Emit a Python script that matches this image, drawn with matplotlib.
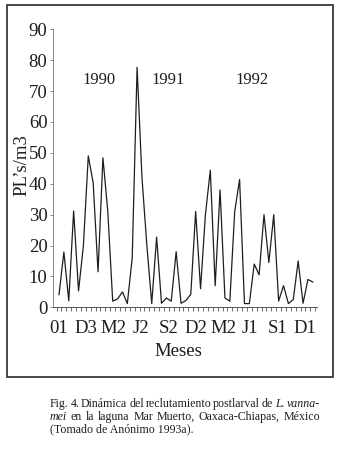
import numpy as np
import matplotlib
matplotlib.use("Agg")
import matplotlib.pyplot as plt
from matplotlib.patches import Rectangle

#======================================================================#
## values (PL's/m3, one value per sampling)
pl_density = [4.1, 17.9, 2.1, 31.2, 5.3, 20.0, 49.0, 40.3, 11.5, 48.4,
              31.0, 2.0, 2.7, 5.0, 1.2, 16.0, 77.7, 42.0, 20.0, 1.2,
              22.7, 1.3, 3.0, 2.0, 18.0, 1.3, 2.2, 4.2, 31.0, 6.0,
              30.0, 44.4, 7.0, 38.0, 3.0, 2.0, 31.0, 41.4, 1.2, 1.2,
              14.0, 10.5, 30.0, 14.5, 30.0, 2.0, 7.0, 1.2, 2.5, 15.0,
              1.3, 9.0, 8.2]
month_labels = ['01', 'D3', 'M2', 'J2', 'S2', 'D2', 'M2', 'J1', 'S1', 'D1']
year_labels = ['1990', '1991', '1992']
y_ticks = [0, 10, 20, 30, 40, 50, 60, 70, 80, 90]

## caption, (word, italic) pairs per line
caption_lines = [
    [("Fig.", 0), ("4.", 0), ("Dinámica", 0), ("del", 0), ("reclutamiento", 0),
     ("postlarval", 0), ("de", 0), ("L.", 1), ("vanna-", 1)],
    [("mei", 1), ("en", 0), ("la", 0), ("laguna", 0), ("Mar", 0), ("Muerto,", 0),
     ("Oaxaca-Chiapas,", 0), ("México", 0)],
    [("(Tomado de Anónimo 1993a).", 0)],
]

#======================================================================#
## plot parameters
serif = ['Liberation Serif', 'DejaVu Serif']
fs_tick = 13.5
fs_cap = 8.6
ink = '#1e1e1e'

plt.rcParams['font.family'] = serif
fig = plt.figure(figsize=(3.4, 4.55), dpi=100)
W, H = 340.0, 455.0

## outer frame of the chart
fig.patches.append(Rectangle((7 / W, 1 - 377 / H), 326 / W, 372 / H,
                             transform=fig.transFigure, fill=False,
                             edgecolor='#3a3a3a', linewidth=1.3))

ax = fig.add_axes([53 / W, 1 - 307.3 / H, 264 / W, 278 / H])
x = np.arange(len(pl_density))
ax.plot(x, pl_density, color=ink, linewidth=0.9)

ax.set_ylim(0, 90)
ax.set_xlim(-1.23, len(pl_density) - 1 + 0.86)
ax.set_yticks(y_ticks)
ax.set_yticklabels([str(v) for v in y_ticks], fontsize=fs_tick, color=ink)

## small category ticks, month labels spread along the axis
ax.set_xticks(np.arange(-0.5, len(pl_density) + 0.5, 1.0), minor=True)
ax.set_xticks(np.linspace(0, 50.4, len(month_labels)))
ax.set_xticklabels(month_labels, fontsize=fs_tick, color=ink)
ax.tick_params(axis='x', which='major', length=0, pad=9)
ax.tick_params(axis='x', which='minor', length=3, width=0.6, color='#555555')
ax.tick_params(axis='y', length=2.5, width=0.6, color='#777777', pad=1.5)

for s in ['top', 'right']:
    ax.spines[s].set_visible(False)
ax.spines['left'].set_color('#888888')
ax.spines['left'].set_linewidth(0.7)
ax.spines['bottom'].set_color('#555555')
ax.spines['bottom'].set_linewidth(0.7)

ax.set_xlabel("Meses", fontsize=fs_tick, color=ink)
ax.set_ylabel("PL\u2019s/m3", fontsize=fs_tick, color=ink)
ax.xaxis.set_label_coords((178 - 53) / 264.0, -(352 - 307.3) / 278.0)
ax.yaxis.set_label_coords((21.7 - 53) / 264.0, (307.3 - 165) / 278.0)
ax.xaxis.label.set_va('center')
ax.yaxis.label.set_va('center')

## year markers inside the plot
for lab, xp in zip(year_labels, [8.3, 22.4, 39.5]):
    ax.text(xp, 73.6, lab, ha='center', va='center', fontsize=12, color=ink)

#======================================================================#
## justified caption below the frame
renderer = fig.canvas.get_renderer()
left_px, right_px = 50.0, 320.0
line_y = [404.0, 417.0, 429.5]
for i, words in enumerate(caption_lines):
    texts = []
    for w, it in words:
        t = fig.text(0, 1 - line_y[i] / H, w, fontsize=fs_cap, color=ink,
                     style='italic' if it else 'normal', va='center', ha='left')
        texts.append(t)
    widths = [t.get_window_extent(renderer).width for t in texts]
    if i < len(caption_lines) - 1 and len(texts) > 1:
        gap = (right_px - left_px - sum(widths)) / (len(texts) - 1)
    else:
        gap = 0
    xp = left_px
    for t, wd in zip(texts, widths):
        t.set_x(xp / W)
        xp += wd + gap

fig.savefig("out.png", dpi=100, facecolor='white')
